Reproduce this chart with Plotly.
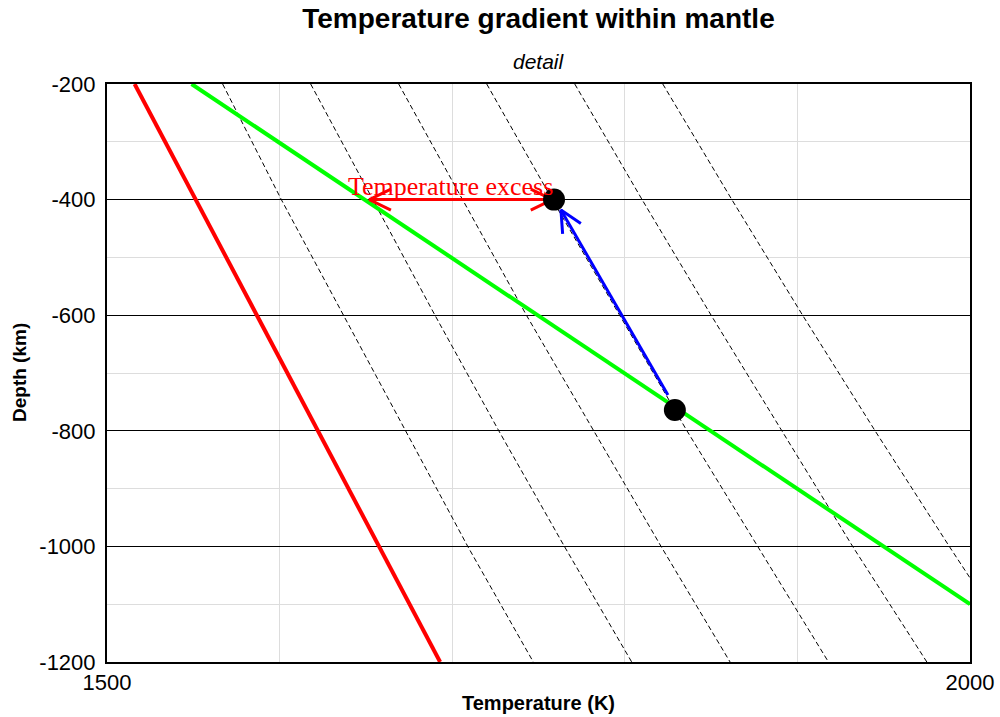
import math
import plotly.graph_objects as go

# ---------------- data ----------------
x_tick_vals = [1500, 2000]
depth_tick_vals = [-200, -400, -600, -800, -1000, -1200]

solidus_T = [1516, 1693]
solidus_depth = [-200, -1200]

geotherm_T = [1549, 2000]
geotherm_depth = [-200, -1100]

adiabat_depth = [-200, -400, -600, -800, -1000, -1200]
adiabat_1 = [1567, 1601, 1637, 1673, 1709, 1747]
adiabat_2 = [1618, 1654, 1690, 1727, 1765, 1804]
adiabat_3 = [1669, 1706, 1743, 1782, 1821, 1861]
adiabat_4 = [1720, 1758, 1797, 1836, 1877, 1918]
adiabat_5 = [1771, 1810, 1850, 1891, 1932, 1975]
adiabat_6 = [1822, 1862, 1903, 1945, 1988, 2032]

dots_T = [1759, 1829]
dots_depth = [-400, -764]

excess_T = [1652, 1758]
excess_depth = [-400, -400]

ascent_T = [1825, 1763]
ascent_depth = [-738, -418]

label_T = 1699
label_depth = -377

# ---------------- layout geometry ----------------
W, H = 1000, 717
ML, MR, MT, MB = 107, 30, 84, 55
X0, X1 = 1500, 2000
Y0, Y1 = -1200, -200
PW, PH = W - ML - MR, H - MT - MB
sx = PW / (X1 - X0)
sy = PH / (Y1 - Y0)


def head(tipT, tipD, tailT, tailD, length=24, ang=26):
    """Open V arrow head, built in pixel space and converted back to data."""
    tx, ty = (tipT - X0) * sx, (tipD - Y0) * sy
    bx, by = (tailT - X0) * sx, (tailD - Y0) * sy
    dx, dy = bx - tx, by - ty
    n = math.hypot(dx, dy)
    ux, uy = dx / n, dy / n
    xs, ys = [], []
    for s in (1, -1):
        a = math.radians(ang) * s
        rx = ux * math.cos(a) - uy * math.sin(a)
        ry = ux * math.sin(a) + uy * math.cos(a)
        xs.append(X0 + (tx + rx * length) / sx)
        ys.append(Y0 + (ty + ry * length) / sy)
    return [xs[0], tipT, xs[1]], [ys[0], tipD, ys[1]]


fig = go.Figure()

for ad in [adiabat_1, adiabat_2, adiabat_3, adiabat_4, adiabat_5, adiabat_6]:
    fig.add_trace(go.Scatter(x=ad, y=adiabat_depth, mode="lines",
                             line=dict(color="black", width=1, dash="5px,3px"),
                             showlegend=False, hoverinfo="skip"))

fig.add_trace(go.Scatter(x=solidus_T, y=solidus_depth, mode="lines",
                         line=dict(color="#ff0000", width=4), showlegend=False))
fig.add_trace(go.Scatter(x=geotherm_T, y=geotherm_depth, mode="lines",
                         line=dict(color="#00ff00", width=4), showlegend=False))

# temperature excess double arrow
fig.add_trace(go.Scatter(x=excess_T, y=excess_depth, mode="lines",
                         line=dict(color="#ff0000", width=3), showlegend=False))
for i, j in ((0, 1), (1, 0)):
    hx, hy = head(excess_T[i], excess_depth[i], excess_T[j], excess_depth[j])
    fig.add_trace(go.Scatter(x=hx, y=hy, mode="lines",
                             line=dict(color="#ff0000", width=3), showlegend=False))

# ascent arrow
fig.add_trace(go.Scatter(x=ascent_T, y=ascent_depth, mode="lines",
                         line=dict(color="#0000ff", width=3), showlegend=False))
hx, hy = head(ascent_T[1], ascent_depth[1], ascent_T[0], ascent_depth[0])
fig.add_trace(go.Scatter(x=hx, y=hy, mode="lines",
                         line=dict(color="#0000ff", width=3), showlegend=False))

fig.add_trace(go.Scatter(x=dots_T, y=dots_depth, mode="markers",
                         marker=dict(color="black", size=22), showlegend=False))

fig.add_annotation(x=label_T, y=label_depth, text="Temperature excess",
                   showarrow=False, xanchor="center", yanchor="middle",
                   font=dict(family="Liberation Serif", size=26, color="#ff0000"))

# titles
fig.add_annotation(xref="paper", yref="paper", x=0.5, y=1, yshift=23,
                   text="<i>detail</i>", showarrow=False, yanchor="middle",
                   font=dict(family="Liberation Sans", size=21, color="black"))
fig.add_annotation(xref="paper", yref="paper", x=0.5, y=0, yshift=-41,
                   text="<b>Temperature (K)</b>", showarrow=False, yanchor="middle",
                   font=dict(family="Liberation Sans", size=20, color="black"))
fig.add_annotation(xref="paper", yref="paper", x=0, y=0.5, xshift=-88,
                   text="<b>Depth (km)</b>", showarrow=False, textangle=-90,
                   xanchor="center", yanchor="middle",
                   font=dict(family="Liberation Sans", size=19, color="black"))

fig.update_layout(
    width=W, height=H,
    margin=dict(l=ML, r=MR, t=MT, b=MB, autoexpand=False),
    paper_bgcolor="white", plot_bgcolor="white",
    title=dict(text="<b>Temperature gradient within mantle</b>",
               x=0.5, xref="paper", y=1 - 18 / H, yref="container",
               xanchor="center", yanchor="middle",
               font=dict(family="Liberation Sans", size=28, color="black")),
    font=dict(family="Liberation Sans", color="black"),
    xaxis=dict(range=[X0, X1], tickvals=x_tick_vals, ticktext=[str(v) for v in x_tick_vals],
               showgrid=False, zeroline=False, ticks="", automargin=False,
               showline=True, linecolor="black", linewidth=2, mirror=True,
               tickfont=dict(size=22), ticklabelstandoff=0,
               minor=dict(tick0=1500, dtick=100, showgrid=True,
                          gridcolor="#dddddd", gridwidth=1, ticks="")),
    yaxis=dict(range=[Y0, Y1], tickvals=depth_tick_vals,
               ticktext=[str(v) for v in depth_tick_vals],
               showgrid=True, gridcolor="black", gridwidth=1, zeroline=False, ticks="",
               automargin=False,
               showline=True, linecolor="black", linewidth=2, mirror=True,
               tickfont=dict(size=22), ticklabelstandoff=5,
               minor=dict(tick0=-200, dtick=100, showgrid=True,
                          gridcolor="#dddddd", gridwidth=1, ticks="")),
)

fig.write_html("out.html")
